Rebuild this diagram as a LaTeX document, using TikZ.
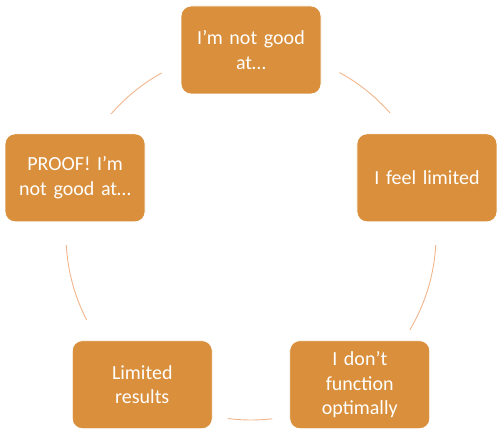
\documentclass[tikz,border=0pt]{standalone}
\usepackage{fontspec}
\setmainfont{Carlito}
\usepackage{tikz}
\usetikzlibrary{calc}
\definecolor{boxorange}{HTML}{D98F3B}
\definecolor{arcorange}{HTML}{F2B58A}

\begin{document}
\begin{tikzpicture}[x=1pt,y=1pt,
  stepbox/.style={draw=white,line width=0.8pt,fill=boxorange,rounded corners=10pt,align=center,
    text=white,font=\fontsize{20}{24.5}\selectfont,minimum width=140pt,minimum height=88pt,text width=124pt},
  cyc/.style={arcorange,line width=0.9pt}]
  \useasboundingbox (0,0) rectangle (502,434);
  \coordinate (c) at (251,199);
  % etapes du cycle
  \node[stepbox] (good)   at ($(c)+(90:185)$)   {I’m not good\\at…};
  \node[stepbox] (feel)   at ($(c)+(18:185)$)   {I feel limited};
  \node[stepbox] (func)   at ($(c)+(-54:185)$)  {I don’t\\function\\optimally};
  \node[stepbox] (result) at ($(c)+(-126:185)$) {Limited\\results};
  \node[stepbox] (proof)  at ($(c)+(162:185)$)  {PROOF! I’m\\not good at…};
  % arcs entre les etapes
  \draw[cyc] ($(c)+(61.4:185)$) arc[start angle=61.4,end angle=41.3,radius=185];
  \draw[cyc] ($(c)+(-3.1:185)$) arc[start angle=-3.1,end angle=-30.9,radius=185];
  \draw[cyc] ($(c)+(-83.4:185)$) arc[start angle=-83.4,end angle=-97.2,radius=185];
  \draw[cyc] ($(c)+(183.1:185)$) arc[start angle=183.1,end angle=207.3,radius=185];
  \draw[cyc] ($(c)+(118.9:185)$) arc[start angle=118.9,end angle=139.2,radius=185];
\end{tikzpicture}
\end{document}
